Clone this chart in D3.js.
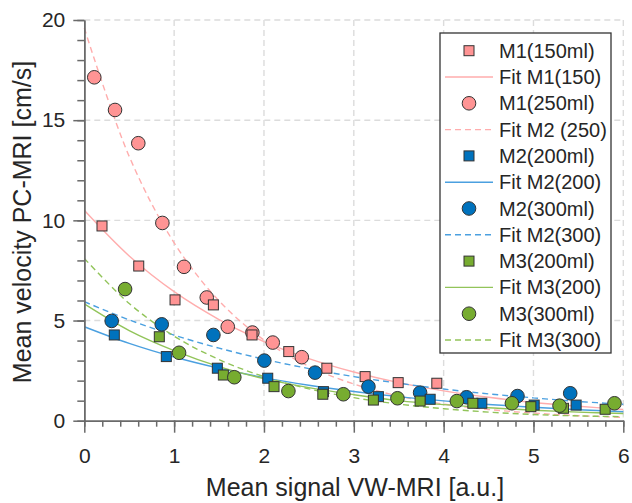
<!DOCTYPE html>
<html>
<head>
  <meta charset="UTF-8">
  <title>Mean velocity vs mean signal</title>
  <style>
    body { margin: 0; background: #ffffff; }
    svg { display: block; font-family: "Liberation Sans", Arial, sans-serif; }
  </style>
</head>
<body>
<svg></svg>
<script src="https://d3js.org/d3.v7.min.js"></script>
<script>

let width = 632, height = 503;

// tick values
const xTicks = [0, 1, 2, 3, 4, 5, 6];
const yTicks = [0, 5, 10, 15, 20];

const m1_150_x = [0.197, 0.606, 1.01, 1.437, 1.867, 2.276, 2.70, 3.126, 3.494, 3.924];
const m1_150_y = [9.72, 7.72, 6.03, 5.78, 4.28, 3.45, 2.62, 2.20, 1.90, 1.87];
const m1_250_x = [0.111, 0.342, 0.601, 0.869, 1.110, 1.363, 1.597, 1.871, 2.098, 2.421];
const m1_250_y = [17.14, 15.51, 13.85, 9.87, 7.68, 6.15, 4.69, 4.40, 3.90, 3.17];
const m2_200_x = [0.334, 0.913, 1.481, 2.042, 2.662, 3.274, 3.85, 4.425, 5.008, 5.475];
const m2_200_y = [4.28, 3.20, 2.62, 2.12, 1.45, 1.20, 1.07, 0.87, 0.78, 0.78];
const m2_300_x = [0.305, 0.862, 1.437, 2.004, 2.569, 3.163, 3.738, 4.256, 4.822, 5.409];
const m2_300_y = [4.98, 4.81, 4.28, 3.00, 2.40, 1.70, 1.40, 1.17, 1.23, 1.37];
const m3_200_x = [0.835, 1.548, 2.112, 2.655, 3.218, 3.738, 4.325, 4.971, 5.334, 5.798];
const m3_200_y = [4.19, 2.28, 1.70, 1.32, 1.03, 0.98, 0.87, 0.70, 0.62, 0.57];
const m3_300_x = [0.454, 1.055, 1.670, 2.272, 2.884, 3.486, 4.147, 4.760, 5.290, 5.902];
const m3_300_y = [6.57, 3.39, 2.17, 1.48, 1.32, 1.12, 0.98, 0.87, 0.75, 0.87];

// fit curves, read at x = 0, 0.5, ... 6
const fitX = [0, 0.5, 1, 1.5, 2, 2.5, 3, 3.5, 4, 4.5, 5, 5.5, 6];
const fit_m1_150 = [10.5, 8.22, 6.44, 5.05, 3.95, 3.10, 2.43, 1.90, 1.49, 1.17, 0.91, 0.72, 0.56];
const fit_m1_250 = [19.6, 13.19, 8.88, 5.98, 4.03, 2.71, 1.83, 1.23, 0.83, 0.56, 0.38, 0.25, 0.17];
const fit_m2_200 = [4.69, 3.86, 3.18, 2.62, 2.15, 1.77, 1.46, 1.20, 0.99, 0.81, 0.67, 0.55, 0.45];
const fit_m2_300 = [5.94, 5.03, 4.27, 3.62, 3.07, 2.60, 2.20, 1.87, 1.58, 1.34, 1.14, 0.96, 0.82];
const fit_m3_200 = [5.83, 4.50, 3.50, 2.70, 2.10, 1.65, 1.30, 1.00, 0.80, 0.65, 0.52, 0.43, 0.36];
const fit_m3_300 = [8.10, 5.85, 4.22, 3.05, 2.20, 1.59, 1.15, 0.83, 0.60, 0.43, 0.31, 0.24, 0.20];

const legendLabels = ["M1(150ml)", "Fit M1(150)", "M1(250ml)", "Fit M2 (250)", "M2(200ml)", "Fit M2(200)",
                      "M2(300ml)", "Fit M2(300)", "M3(200ml)", "Fit M3(200)", "M3(300ml)", "Fit M3(300)"];

const pink = "#ff9494", blue = "#0072bd", green = "#77ac30";
const pinkLine = "#ffadad", blueLine = "#4ba0e0", greenLine = "#92c45a";

let svg = d3.select("svg").attr("width", width).attr("height", height);

let x = d3.scaleLinear().domain([0, 6]).range([84.3, 623.3]);
let y = d3.scaleLinear().domain([0, 20]).range([420.7, 20]);

// grid
let grid = svg.append("g").attr("stroke", "#dcdcdc").attr("stroke-width", 1.4).attr("stroke-dasharray", "6,4");
grid.selectAll(".gx").data(xTicks.slice(1)).enter().append("line")
    .attr("x1", d => x(d)).attr("x2", d => x(d)).attr("y1", y(20)).attr("y2", y(0));
grid.selectAll(".gy").data(yTicks.slice(1)).enter().append("line")
    .attr("x1", x(0)).attr("x2", x(6)).attr("y1", d => y(d)).attr("y2", d => y(d));

// fit lines
const fits = [
  {v: fit_m1_150, c: pinkLine, dash: null},
  {v: fit_m1_250, c: pinkLine, dash: "6,4"},
  {v: fit_m2_200, c: blueLine, dash: null},
  {v: fit_m2_300, c: blueLine, dash: "6,4"},
  {v: fit_m3_200, c: greenLine, dash: null},
  {v: fit_m3_300, c: greenLine, dash: "6,4"}
];
let line = d3.line().x(d => x(d[0])).y(d => y(d[1])).curve(d3.curveCatmullRom);
fits.forEach(f => {
  svg.append("path")
    .attr("d", line(fitX.map((v, i) => [v, f.v[i]])))
    .attr("fill", "none").attr("stroke", f.c).attr("stroke-width", 1.4)
    .attr("stroke-dasharray", f.dash);
});

// points
const sets = [
  {xs: m1_250_x, ys: m1_250_y, c: pink, shape: "circle"},
  {xs: m1_150_x, ys: m1_150_y, c: pink, shape: "square"},
  {xs: m2_300_x, ys: m2_300_y, c: blue, shape: "circle"},
  {xs: m2_200_x, ys: m2_200_y, c: blue, shape: "square"},
  {xs: m3_200_x, ys: m3_200_y, c: green, shape: "square"},
  {xs: m3_300_x, ys: m3_300_y, c: green, shape: "circle"}
];
function drawMarker(g, shape, cx, cy, c) {
  if (shape === "circle") {
    g.append("circle").attr("cx", cx).attr("cy", cy).attr("r", 6.8)
      .attr("fill", c).attr("stroke", "#333").attr("stroke-width", 1);
  } else {
    g.append("rect").attr("x", cx - 5).attr("y", cy - 5).attr("width", 10).attr("height", 10)
      .attr("fill", c).attr("stroke", "#333").attr("stroke-width", 1);
  }
}
let pts = svg.append("g");
sets.forEach(s => {
  s.xs.forEach((v, i) => drawMarker(pts, s.shape, x(v), y(s.ys[i]), s.c));
});

// axes
const axisColor = "#6a6a6a";
let gx = svg.append("g").attr("transform", "translate(0," + y(0) + ")")
    .call(d3.axisBottom(x).tickValues(d3.range(0, 6.01, 0.2)).tickSize(6).tickFormat("").tickSizeOuter(0));
let gx2 = svg.append("g").attr("transform", "translate(0," + y(0) + ")")
    .call(d3.axisBottom(x).tickValues(xTicks).tickSize(12).tickPadding(15).tickFormat(d3.format("d")).tickSizeOuter(0));
let gy = svg.append("g").attr("transform", "translate(" + x(0) + ",0)")
    .call(d3.axisLeft(y).tickValues(d3.range(0, 20.01, 1)).tickSize(7).tickFormat("").tickSizeOuter(0));
let gy2 = svg.append("g").attr("transform", "translate(" + x(0) + ",0)")
    .call(d3.axisLeft(y).tickValues(yTicks).tickSize(11).tickPadding(8).tickFormat(d3.format("d")).tickSizeOuter(0));
[gx, gx2, gy, gy2].forEach(g => {
  g.selectAll("path, line").attr("stroke", axisColor).attr("stroke-width", 1.5);
  g.selectAll("text").attr("fill", "#262626").style("font-size", "21px")
    .style("font-family", '"Liberation Sans", Arial, sans-serif');
});

// axis labels
svg.append("text").attr("x", 355).attr("y", 496).attr("text-anchor", "middle")
  .attr("fill", "#262626").style("font-size", "25px").text("Mean signal VW-MRI [a.u.]");
svg.append("text").attr("transform", "translate(31,222) rotate(-90)").attr("text-anchor", "middle")
  .attr("fill", "#262626").style("font-size", "25px").text("Mean velocity PC-MRI [cm/s]");

// legend
let lg = svg.append("g");
lg.append("rect").attr("x", 440).attr("y", 33).attr("width", 171).attr("height", 320)
  .attr("fill", "white").attr("stroke", "#333").attr("stroke-width", 1.3);
const legendItems = [
  {type: "square", c: pink}, {type: "line", c: pinkLine},
  {type: "circle", c: pink}, {type: "dash", c: pinkLine},
  {type: "square", c: blue}, {type: "line", c: blueLine},
  {type: "circle", c: blue}, {type: "dash", c: blueLine},
  {type: "square", c: green}, {type: "line", c: greenLine},
  {type: "circle", c: green}, {type: "dash", c: greenLine}
];
let ly = d3.scalePoint().domain(d3.range(12)).range([50.7, 340]);
legendItems.forEach((it, i) => {
  let cy = ly(i);
  if (it.type === "line" || it.type === "dash") {
    lg.append("line").attr("x1", 445).attr("x2", 493).attr("y1", cy).attr("y2", cy)
      .attr("stroke", it.c).attr("stroke-width", 1.4)
      .attr("stroke-dasharray", it.type === "dash" ? "6,4" : null);
  } else {
    drawMarker(lg, it.type, 469, cy, it.c);
  }
  lg.append("text").attr("x", 499).attr("y", cy).attr("dy", "0.35em")
    .attr("fill", "#262626").style("font-size", "20px").text(legendLabels[i]);
});

</script>
</body>
</html>
